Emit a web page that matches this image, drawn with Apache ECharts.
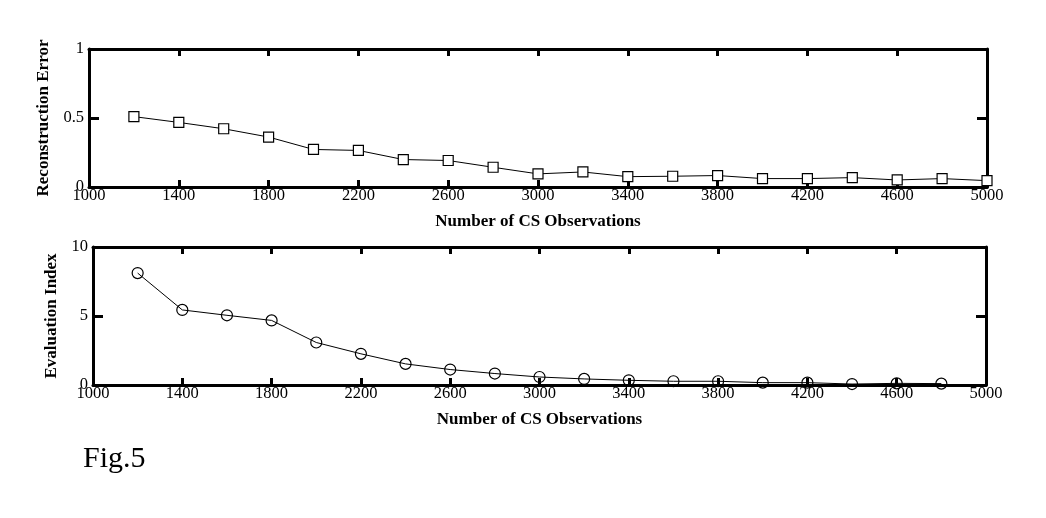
<!DOCTYPE html>
<html>
<head>
<meta charset="utf-8">
<script src="https://cdn.jsdelivr.net/npm/echarts@6/dist/echarts.min.js"></script>
<style>
html,body{margin:0;padding:0;background:#fff;}
#c{width:1046px;height:518px;}
</style>
</head>
<body>
<div id="c"></div>
<script>
// Data
const xTicks = [1000, 1400, 1800, 2200, 2600, 3000, 3400, 3800, 4200, 4600, 5000];
const obsTop = [1200,1400,1600,1800,2000,2200,2400,2600,2800,3000,3200,3400,3600,3800,4000,4200,4400,4600,4800,5000];
const reconError = [0.51,0.468,0.422,0.362,0.272,0.265,0.199,0.192,0.143,0.095,0.109,0.075,0.078,0.083,0.061,0.061,0.068,0.051,0.061,0.046];
const obsBottom = [1200,1400,1600,1800,2000,2200,2400,2600,2800,3000,3200,3400,3600,3800,4000,4200,4400,4600,4800];
const evalIndex = [8.11,5.44,5.05,4.68,3.08,2.26,1.53,1.12,0.83,0.58,0.44,0.34,0.27,0.27,0.17,0.17,0.07,0.12,0.10];
const yTicksTop = [0, 0.5, 1];
const yTicksBottom = [0, 5, 10];

const FONT = '"Liberation Serif", "DejaVu Serif", serif';
const black = '#000';
const plain = v => String(v);

function xAxisMain(grid, name) {
  return {
    type: 'value', gridIndex: grid, position: 'bottom', min: 1000, max: 5000,
    name: name, nameLocation: 'middle', nameGap: 26,
    nameTextStyle: {fontFamily: FONT, fontSize: 17, fontWeight: 'bold', color: black},
    axisLine: {show: true, onZero: false, lineStyle: {color: black, width: 3}},
    axisTick: {show: true, inside: true, length: 7, lineStyle: {color: black, width: 3}, customValues: xTicks},
    axisLabel: {show: true, margin: 0, fontFamily: FONT, fontSize: 16.5, color: black, customValues: xTicks, formatter: plain},
    splitLine: {show: false}
  };
}
function xAxisTop(grid) {
  return {
    type: 'value', gridIndex: grid, position: 'top', min: 1000, max: 5000,
    axisLine: {show: true, onZero: false, lineStyle: {color: black, width: 3}},
    axisTick: {show: true, inside: true, length: 7, lineStyle: {color: black, width: 3}, customValues: xTicks},
    axisLabel: {show: false},
    splitLine: {show: false}
  };
}
function yAxisMain(grid, name, ticks, gap) {
  return {
    type: 'value', gridIndex: grid, position: 'left', min: ticks[0], max: ticks[ticks.length-1],
    interval: ticks[1] - ticks[0],
    name: name, nameLocation: 'middle', nameGap: gap,
    nameTextStyle: {fontFamily: FONT, fontSize: 17, fontWeight: 'bold', color: black},
    axisLine: {show: true, onZero: false, lineStyle: {color: black, width: 3}},
    axisTick: {show: true, inside: true, length: 10, lineStyle: {color: black, width: 3}},
    axisLabel: {show: true, margin: 5, fontFamily: FONT, fontSize: 16.5, color: black, formatter: plain},
    splitLine: {show: false}
  };
}
function yAxisRight(grid, ticks) {
  return {
    type: 'value', gridIndex: grid, position: 'right', min: ticks[0], max: ticks[ticks.length-1],
    interval: ticks[1] - ticks[0],
    axisLine: {show: true, onZero: false, lineStyle: {color: black, width: 3}},
    axisTick: {show: true, inside: true, length: 10, lineStyle: {color: black, width: 3}},
    axisLabel: {show: false},
    splitLine: {show: false}
  };
}

const chart = echarts.init(document.getElementById('c'), null, {renderer: 'canvas'});
chart.setOption({
  backgroundColor: '#fff',
  animation: false,
  grid: [
    {left: 89, top: 49, width: 898, height: 138},
    {left: 93, top: 247, width: 893, height: 138}
  ],
  xAxis: [
    xAxisMain(0, 'Number of CS Observations'),
    xAxisTop(0),
    xAxisMain(1, 'Number of CS Observations'),
    xAxisTop(1)
  ],
  yAxis: [
    yAxisMain(0, 'Reconstruction Error', yTicksTop, 34),
    yAxisRight(0, yTicksTop),
    yAxisMain(1, 'Evaluation Index', yTicksBottom, 29),
    yAxisRight(1, yTicksBottom)
  ],
  series: [
    {
      type: 'line', xAxisIndex: 0, yAxisIndex: 0,
      data: obsTop.map((x, i) => [x, reconError[i]]),
      symbol: 'rect', symbolSize: 10, showAllSymbol: true,
      lineStyle: {color: black, width: 1},
      itemStyle: {color: '#fff', borderColor: black, borderWidth: 1.2},
      clip: false, z: 1
    },
    {
      type: 'line', xAxisIndex: 2, yAxisIndex: 2,
      data: obsBottom.map((x, i) => [x, evalIndex[i]]),
      symbol: 'circle', symbolSize: 11, showAllSymbol: true,
      lineStyle: {color: black, width: 1},
      itemStyle: {color: 'rgba(255,255,255,0)', borderColor: black, borderWidth: 1.2},
      clip: false, z: 1
    }
  ],
  graphic: [
    {type: 'text', left: 83, top: 444, style: {text: 'Fig.5', font: '30px "Liberation Serif", serif', fill: black}}
  ]
});
</script>
</body>
</html>
